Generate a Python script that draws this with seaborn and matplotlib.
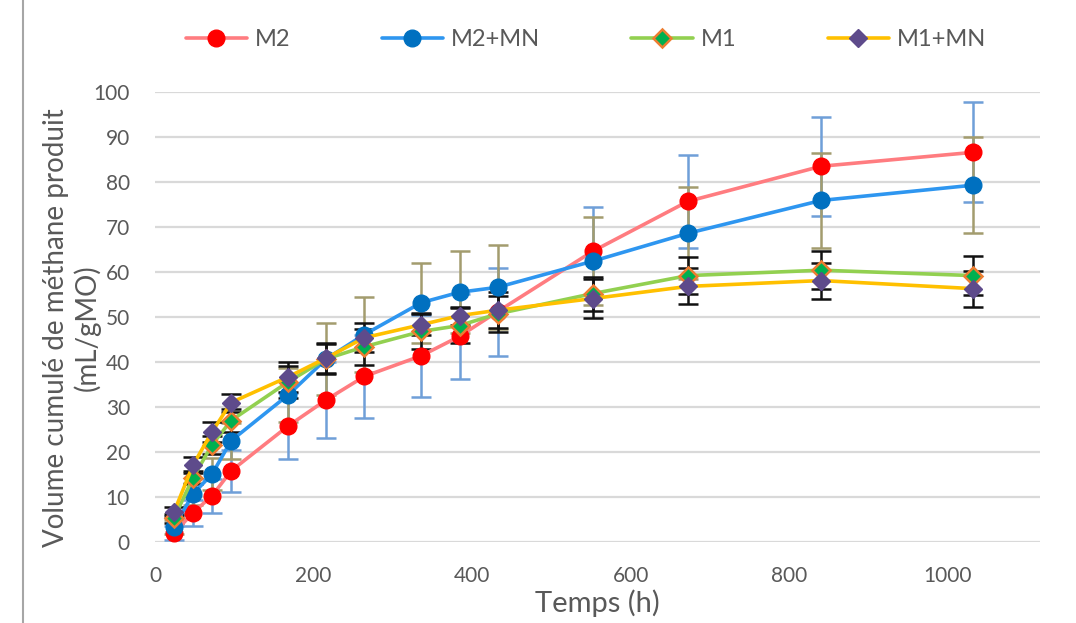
import numpy as np
import pandas as pd
import matplotlib
matplotlib.use("Agg")
import matplotlib.pyplot as plt
import seaborn as sns
from matplotlib.lines import Line2D

# ---------------- data ----------------
temps = [24, 48, 72, 96, 168, 216, 264, 336, 384, 432, 552, 672, 840, 1032]
m2 = [2.0, 6.5, 10.3, 15.8, 25.8, 31.6, 36.8, 41.4, 45.7, 51.2, 64.6, 75.7, 83.5, 86.6]
m2_err = [1.5, 2.9, 3.8, 4.7, 7.3, 8.4, 9.2, 9.1, 9.4, 9.8, 9.8, 10.3, 11.0, 11.1]
m2mn = [3.3, 10.7, 15.1, 22.5, 32.7, 40.7, 46.1, 53.2, 55.5, 56.6, 62.4, 68.6, 75.9, 79.3]
m2mn_err = [1.5, 2.5, 3.5, 4.0, 6.0, 8.0, 8.3, 8.9, 9.1, 9.3, 9.8, 10.2, 10.5, 10.7]
m1 = [5.3, 14.3, 21.6, 27.0, 35.6, 40.7, 43.4, 46.8, 48.1, 50.7, 55.2, 59.2, 60.4, 59.2]
m1_err = [1.0, 1.5, 2.0, 2.5, 3.5, 3.4, 4.0, 4.0, 3.8, 4.0, 3.8, 4.1, 4.2, 4.4]
m1mn = [6.7, 17.1, 24.5, 31.0, 36.7, 40.9, 45.4, 48.3, 50.3, 51.5, 54.1, 56.8, 58.1, 56.3]
m1mn_err = [1.0, 1.7, 2.2, 2.0, 3.4, 3.4, 3.2, 2.3, 2.0, 4.0, 4.3, 4.0, 4.0, 4.0]

series_names = ["M2", "M2+MN", "M1", "M1+MN"]
x_ticks = [0, 200, 400, 600, 800, 1000]
y_ticks = [0, 10, 20, 30, 40, 50, 60, 70, 80, 90, 100]

values = {"M2": m2, "M2+MN": m2mn, "M1": m1, "M1+MN": m1mn}
errors = {"M2": m2_err, "M2+MN": m2mn_err, "M1": m1_err, "M1+MN": m1mn_err}

# ---------------- styles ----------------
line_colors = {"M2": "#FF7C80", "M2+MN": "#2E96F0", "M1": "#92D050", "M1+MN": "#FFC000"}
marker_face = {"M2": "#FF0000", "M2+MN": "#0070C0", "M1": "#00B050", "M1+MN": "#5E4B8B"}
marker_edge = {"M2": "#FF0000", "M2+MN": "#0070C0", "M1": "#ED7D31", "M1+MN": "#5E4B8B"}
markers = {"M2": "o", "M2+MN": "o", "M1": "D", "M1+MN": "D"}
msize = {"M2": 12, "M2+MN": 12, "M1": 9, "M1+MN": 9.5}
err_colors = {"M2": "#6F9FD8", "M2+MN": "#A39C6E", "M1": "#111111", "M1+MN": "#111111"}

sns.set_theme(style="white")
plt.rcParams["font.family"] = ["Lato", "DejaVu Sans"]

fig = plt.figure(figsize=(10.76, 6.23), dpi=100)
ax = fig.add_axes([155 / 1076, (623 - 542) / 623, 885 / 1076, 450 / 623])

df = pd.DataFrame({
    "Temps": temps * 4,
    "Volume": m2 + m2mn + m1 + m1mn,
    "Série": sum([[s] * len(temps) for s in series_names], []),
})

# error bars first (behind)
for s in series_names:
    ax.errorbar(temps, values[s], yerr=errors[s], fmt="none",
                ecolor=err_colors[s], elinewidth=1.8, capsize=7.5,
                capthick=1.8, zorder=1.5)

for i, s in enumerate(series_names):
    sub = df[df["Série"] == s]
    sns.lineplot(data=sub, x="Temps", y="Volume", ax=ax, color=line_colors[s],
                 linewidth=2.6, marker=markers[s], markersize=msize[s],
                 markerfacecolor=marker_face[s], markeredgecolor=marker_edge[s],
                 markeredgewidth=1.8 if s == "M1" else 1.0,
                 zorder=3 + i, label=s, legend=False)

ax.set_xlim(0, 1116)
ax.set_ylim(0, 100)
ax.set_xticks(x_ticks)
ax.set_yticks(y_ticks)
ax.grid(axis="y", color="#D9D9D9", linewidth=1.6)
ax.grid(axis="x", visible=False)
for sp in ax.spines.values():
    sp.set_visible(False)
ax.tick_params(axis="both", length=0, labelsize=15, labelcolor="#595959")
ax.tick_params(axis="y", pad=18)
ax.tick_params(axis="x", pad=17)
ax.set_xlabel("Temps (h)", fontsize=21, color="#595959", labelpad=3)
ax.set_ylabel("")

fig.text(72 / 1076, (623 - 328) / 623, "Volume cumulé de méthane produit\n(mL/gMO)",
         rotation=90, ha="center", va="center", fontsize=20, color="#595959",
         linespacing=1.2, multialignment="center")

# legend
handles = [Line2D([0], [0], color=line_colors[s], linewidth=2.6, marker=markers[s],
                  markersize=msize[s], markerfacecolor=marker_face[s],
                  markeredgecolor=marker_edge[s],
                  markeredgewidth=1.8 if s == "M1" else 1.0) for s in series_names]
fig.legend(handles, series_names, loc="center", bbox_to_anchor=(586 / 1076, (623 - 40) / 623),
           ncol=4, frameon=False, fontsize=17, handlelength=2.6, columnspacing=3.85,
           handletextpad=0.35, labelcolor="#595959")

fig.add_artist(Line2D([23 / 1076, 23 / 1076], [0, 1], color="#A6A6A6", linewidth=1.5,
                      transform=fig.transFigure))

fig.savefig("out.png", dpi=100)
